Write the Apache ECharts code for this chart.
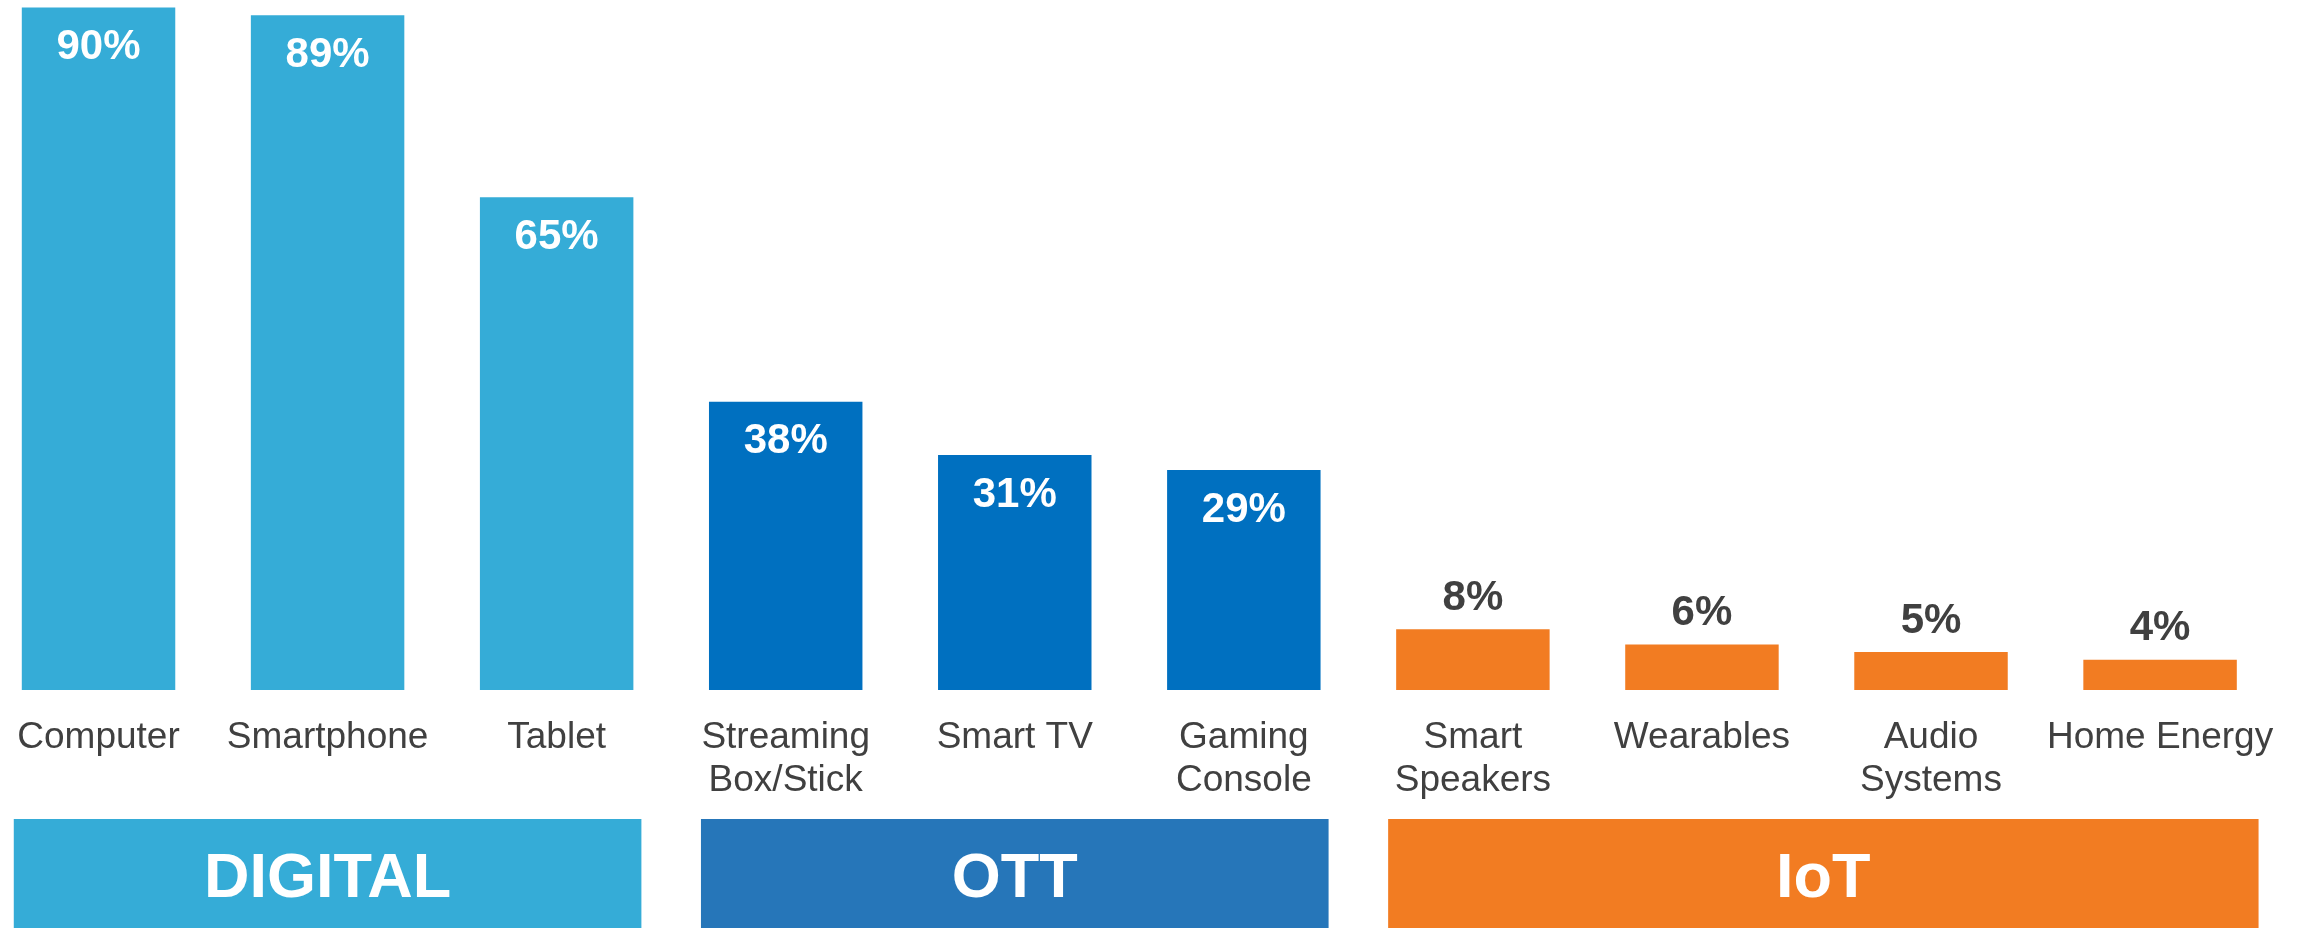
<!DOCTYPE html>
<html lang="en">
<head>
	<meta charset="UTF-8">
	<title>Device usage by group</title>
	<script src="https://cdn.jsdelivr.net/npm/echarts@6/dist/echarts.min.js"></script>
	<style>
		html, body { margin: 0; padding: 0; background: #fff; }
		#chart { width: 2305px; height: 928px; }
	</style>
</head>
<body>
	<div id="chart"></div>

	<script type="text/javascript">
		// categories and values
		var categories = ['Computer', 'Smartphone', 'Tablet', 'Streaming\nBox/Stick', 'Smart TV',
			'Gaming\nConsole', 'Smart\nSpeakers', 'Wearables', 'Audio\nSystems', 'Home Energy'];
		var values = [90, 89, 65, 38, 31, 29, 8, 6, 5, 4];
		// which group each category belongs to
		var groupOf = [0, 0, 0, 1, 1, 1, 2, 2, 2, 2];
		var groupNames = ['DIGITAL', 'OTT', 'IoT'];
		var groupFirst = [0, 3, 6];
		var groupLast = [2, 5, 9];

		var barColors = ['#35ACD7', '#0070C0', '#F27C22'];
		var bandColors = ['#35ACD7', '#2676B9', '#F27C22'];
		var textGrey = '#404040';
		var font = '"Liberation Sans", Arial, sans-serif';
		// how far each band reaches past its outer bars (share of a category)
		var bandPadLeft = [0.37, 0.37, 0.37];
		var bandPadRight = [0.37, 0.37, 0.43];

		var myChart = echarts.init(document.getElementById('chart'));

		// bar data, colour and label depend on group
		var barData = values.map(function (v, i) {
			var g = groupOf[i];
			var inside = g < 2;
			return {
				value: v,
				itemStyle: { color: barColors[g] },
				label: {
					position: inside ? 'insideTop' : 'top',
					distance: inside ? 19 : 10,
					color: inside ? '#ffffff' : textGrey
				}
			};
		});

		var bandData = groupNames.map(function (n, i) {
			return [groupFirst[i], groupLast[i], 0];
		});

		myChart.setOption({
			animation: false,
			grid: [
				{ left: -16, width: 2290.6, top: 0, height: 690, outerBoundsMode: 'none' },
				{ left: -16, width: 2290.6, top: 819, height: 109, outerBoundsMode: 'none' }
			],
			xAxis: [{
				type: 'category',
				gridIndex: 0,
				data: categories,
				axisLine: { show: false },
				axisTick: { show: false },
				axisLabel: {
					interval: 0,
					margin: 26,
					color: textGrey,
					fontFamily: font,
					fontSize: 37,
					lineHeight: 43,
					align: 'center'
				}
			}, {
				type: 'category',
				gridIndex: 1,
				data: categories,
				show: false
			}],
			yAxis: [{
				type: 'value',
				gridIndex: 0,
				min: 0,
				max: 91,
				show: false,
				splitLine: { show: false }
			}, {
				type: 'value',
				gridIndex: 1,
				min: 0,
				max: 1,
				show: false,
				splitLine: { show: false }
			}],
			series: [{
				name: 'Usage',
				type: 'bar',
				xAxisIndex: 0,
				yAxisIndex: 0,
				barWidth: '67%',
				data: barData,
				label: {
					show: true,
					formatter: '{c}%',
					fontFamily: font,
					fontWeight: 'bold',
					fontSize: 42
				}
			}, {
				// group bands under the axis labels
				name: 'Groups',
				type: 'custom',
				xAxisIndex: 1,
				yAxisIndex: 1,
				data: bandData,
				encode: { x: [0, 1], y: 2 },
				renderItem: function (params, api) {
					var i = params.dataIndex;
					var cw = api.size([1, 0])[0];
					var x0 = api.coord([api.value(0), 0])[0] - cw * bandPadLeft[i];
					var x1 = api.coord([api.value(1), 0])[0] + cw * bandPadRight[i];
					var cs = params.coordSys;
					return {
						type: 'rect',
						shape: { x: x0, y: cs.y, width: x1 - x0, height: cs.height },
						style: { fill: bandColors[i] },
						textContent: {
							style: {
								text: groupNames[i],
								fill: '#ffffff',
								fontFamily: font,
								fontWeight: 'bold',
								fontSize: 63
							}
						},
						textConfig: { position: 'inside', offset: [0, 6] }
					};
				}
			}]
		});
	</script>
</body>
</html>
